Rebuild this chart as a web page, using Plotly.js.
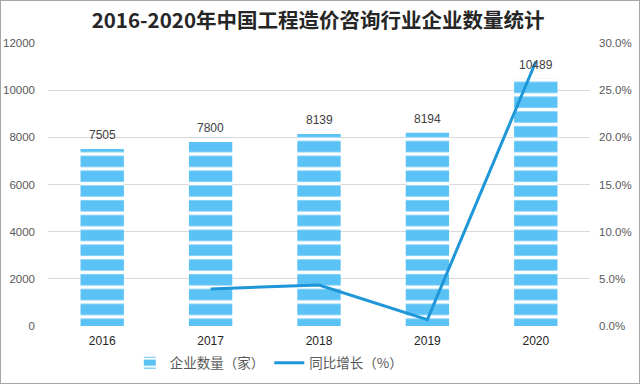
<!DOCTYPE html>
<html>
<head>
<meta charset="utf-8">
<script src="https://cdn.plot.ly/plotly-3.0.1.min.js"></script>
<style>
html,body{margin:0;padding:0;background:#fff;}
#wrap{position:relative;width:640px;height:384px;}
#chart{width:640px;height:384px;}
#frame{position:absolute;left:0;top:0;width:638px;height:382px;border:1px solid #a6a6a6;pointer-events:none;}
</style>
</head>
<body>
<div id="wrap"><div id="chart"></div><div id="frame"></div></div>
<script>
const years = ['2016', '2017', '2018', '2019', '2020'];
const companyCount = [7505, 7800, 8139, 8194, 10489];
const growthYears = ['2017', '2018', '2019', '2020'];
const growthRate = [0.0393, 0.0435, 0.0068, 0.2801];
const leftTicks = [0, 2000, 4000, 6000, 8000, 10000, 12000];
const rightTicks = [0, 0.05, 0.10, 0.15, 0.20, 0.25, 0.30];

const barTrace = {
  type: 'bar',
  name: '企业数量（家）',
  x: years,
  y: companyCount,
  width: 0.4,
  marker: {
    color: '#5bc2f5',
    pattern: {shape: '-', fgcolor: '#ffffff', bgcolor: '#5bc2f5', size: 14.8, solidity: 0.24, fillmode: 'replace'}
  },
  hoverinfo: 'x+y'
};

const lineTrace = {
  type: 'scatter',
  mode: 'lines',
  name: '同比增长（%）',
  x: growthYears,
  y: growthRate,
  yaxis: 'y2',
  line: {color: '#1e96d8', width: 3}
};

const annotations = years.map((yr, i) => ({
  x: i, y: companyCount[i], xref: 'x', yref: 'y',
  text: String(companyCount[i]), showarrow: false,
  yanchor: 'middle', yshift: 14,
  font: {family: 'Liberation Sans, Arial, sans-serif', size: 12, color: '#404040'}
}));

const layout = {
  width: 640, height: 384,
  margin: {l: 48, r: 50, t: 43, b: 58},
  paper_bgcolor: '#ffffff',
  plot_bgcolor: '#ffffff',
  title: {
    text: '<b>2016-2020年中国工程造价咨询行业企业数量统计</b>',
    x: 0.497, xanchor: 'center', y: 0.946, yanchor: 'middle',
    font: {family: 'Noto Sans CJK SC, sans-serif', size: 20.5, color: '#262626'}
  },
  xaxis: {
    type: 'category', range: [-0.5, 4.5],
    showgrid: false, zeroline: false, showline: false, ticks: '', ticklabelstandoff: 6,
    tickfont: {family: 'Liberation Sans, Arial, sans-serif', size: 12, color: '#262626'}
  },
  yaxis: {
    range: [0, 12000], tickvals: leftTicks, ticktext: leftTicks.map(String),
    showgrid: true, gridcolor: '#d9d9d9', gridwidth: 1, zeroline: false, showline: false,
    ticks: '', ticklabelstandoff: 12,
    tickfont: {family: 'Liberation Sans, Arial, sans-serif', size: 11.5, color: '#595959'}
  },
  yaxis2: {
    overlaying: 'y', side: 'right',
    range: [0, 0.30], tickvals: rightTicks, ticktext: rightTicks.map(v => (v * 100).toFixed(1) + '%'),
    showgrid: false, zeroline: false, showline: false, ticks: '', ticklabelstandoff: 8,
    tickfont: {family: 'Liberation Sans, Arial, sans-serif', size: 11.5, color: '#595959'}
  },
  showlegend: true,
  legend: {
    orientation: 'h', xref: 'container', yref: 'container',
    x: 0.42, xanchor: 'center', y: 0.055, yanchor: 'middle',
    font: {family: 'Noto Sans CJK SC, sans-serif', size: 13.5, color: '#595959'},
    itemwidth: 30, tracegroupgap: 0
  },
  annotations: annotations,
  bargap: 0.6
};

Plotly.newPlot('chart', [barTrace, lineTrace], layout, {displayModeBar: false, staticPlot: true});
</script>
</body>
</html>
